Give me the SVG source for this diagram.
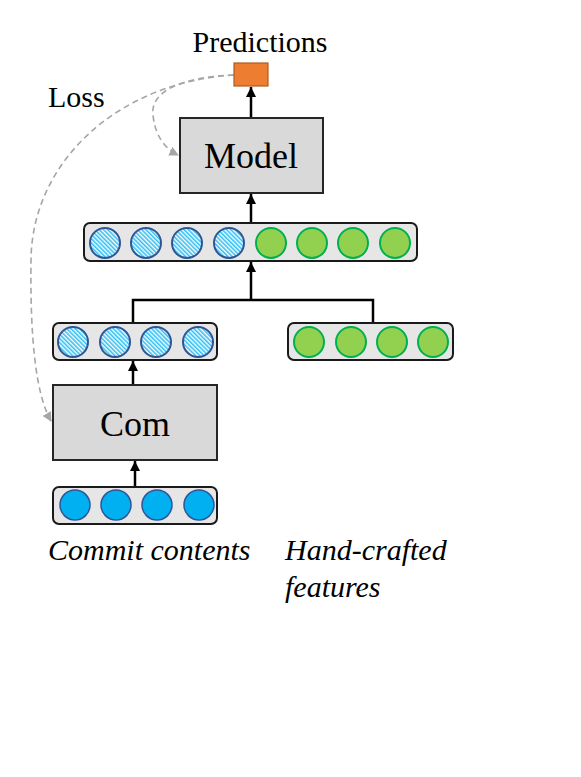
<svg xmlns="http://www.w3.org/2000/svg" width="581" height="777" viewBox="0 0 581 777">
<style>
.lbl{font-family:"Liberation Serif","Times New Roman",serif;font-size:30px;fill:#000}
.it{font-style:italic}
.box{fill:#D9D9D9;stroke:#262626;stroke-width:2}
.bar{fill:#E7E6E6;stroke:#1a1a1a;stroke-width:2}
.hc{fill:url(#hatch);stroke:#2F5597;stroke-width:2}
.gc{fill:#92D050;stroke:#00B050;stroke-width:2}
.bc{fill:#00B0F0;stroke:#2F5597;stroke-width:1.5}
.ln{fill:none;stroke:#000;stroke-width:2.5}
.dash{fill:none;stroke:#A6A6A6;stroke-width:1.6;stroke-dasharray:6 4}
</style>
<defs>
<pattern id="hatch" width="3" height="3" patternUnits="userSpaceOnUse" patternTransform="rotate(-45)">
<rect width="3" height="3" fill="#fff"/>
<rect width="1.6" height="3" fill="#33BFF2"/>
</pattern>
<marker id="ah" viewBox="0 0 10 10" refX="10" refY="5" markerWidth="4" markerHeight="4" orient="auto" markerUnits="strokeWidth">
<path d="M0,0 L10,5 L0,10 z" fill="#000"/>
</marker>
<marker id="ga" viewBox="0 0 10 10" refX="9" refY="5" markerWidth="6" markerHeight="6" orient="auto" markerUnits="strokeWidth">
<path d="M0,0 L10,5 L0,10 z" fill="#A6A6A6"/>
</marker>
</defs>

<g id="connectors">
<line class="ln" x1="251" y1="118" x2="251" y2="87" marker-end="url(#ah)"/>
<line class="ln" x1="251" y1="223" x2="251" y2="194" marker-end="url(#ah)"/>
<polyline class="ln" points="133,323 133,300 373,300 373,323"/>
<line class="ln" x1="251" y1="300" x2="251" y2="262" marker-end="url(#ah)"/>
<line class="ln" x1="133" y1="385" x2="133" y2="361" marker-end="url(#ah)"/>
<line class="ln" x1="135" y1="487" x2="135" y2="461" marker-end="url(#ah)"/>
<path class="dash" d="M234,75 C180,77 150,92 153,115 C155,135 164,148 178,155" marker-end="url(#ga)"/>
<path class="dash" d="M234,75 C120,82 32,160 31,260 C30,340 36,395 51,421" marker-end="url(#ga)"/>
</g>

<g id="predictions">
<rect x="234" y="63" width="34" height="23" fill="#ED7D31" stroke="#AE5A21" stroke-width="1.2"/>
<text class="lbl" x="260" y="52" text-anchor="middle">Predictions</text>
</g>
<g id="loss"><text class="lbl" x="48" y="107">Loss</text></g>

<g id="model">
<rect class="box" x="180" y="118" width="143" height="75"/>
<text class="lbl" x="251" y="168" text-anchor="middle" style="font-size:36px">Model</text>
</g>

<g id="combined-features">
<rect class="bar" x="84" y="223" width="333" height="38" rx="6"/>
<circle class="hc" cx="105" cy="243" r="15"/>
<circle class="hc" cx="146" cy="243" r="15"/>
<circle class="hc" cx="187" cy="243" r="15"/>
<circle class="hc" cx="229" cy="243" r="15"/>
<circle class="gc" cx="271" cy="243" r="15"/>
<circle class="gc" cx="312" cy="243" r="15"/>
<circle class="gc" cx="353" cy="243" r="15"/>
<circle class="gc" cx="395" cy="243" r="15"/>
</g>

<g id="com-features">
<rect class="bar" x="53" y="323" width="164" height="37" rx="6"/>
<circle class="hc" cx="73" cy="342" r="15"/>
<circle class="hc" cx="115" cy="342" r="15"/>
<circle class="hc" cx="156" cy="342" r="15"/>
<circle class="hc" cx="198" cy="342" r="15"/>
</g>

<g id="hand-features">
<rect class="bar" x="288" y="323" width="165" height="37" rx="6"/>
<circle class="gc" cx="309" cy="342" r="15"/>
<circle class="gc" cx="351" cy="342" r="15"/>
<circle class="gc" cx="392" cy="342" r="15"/>
<circle class="gc" cx="433" cy="342" r="15"/>
</g>

<g id="com">
<rect class="box" x="53" y="385" width="164" height="75"/>
<text class="lbl" x="135" y="436" text-anchor="middle" style="font-size:36px">Com</text>
</g>

<g id="commit-input">
<rect class="bar" x="53" y="487" width="164" height="37" rx="6"/>
<circle class="bc" cx="75" cy="505" r="15"/>
<circle class="bc" cx="116" cy="505" r="15"/>
<circle class="bc" cx="157" cy="505" r="15"/>
<circle class="bc" cx="199" cy="505" r="15"/>
</g>

<g id="labels">
<text class="lbl it" x="48" y="560">Commit contents</text>
<text class="lbl it" x="285" y="560">Hand-crafted</text>
<text class="lbl it" x="285" y="597">features</text>
</g>
</svg>
